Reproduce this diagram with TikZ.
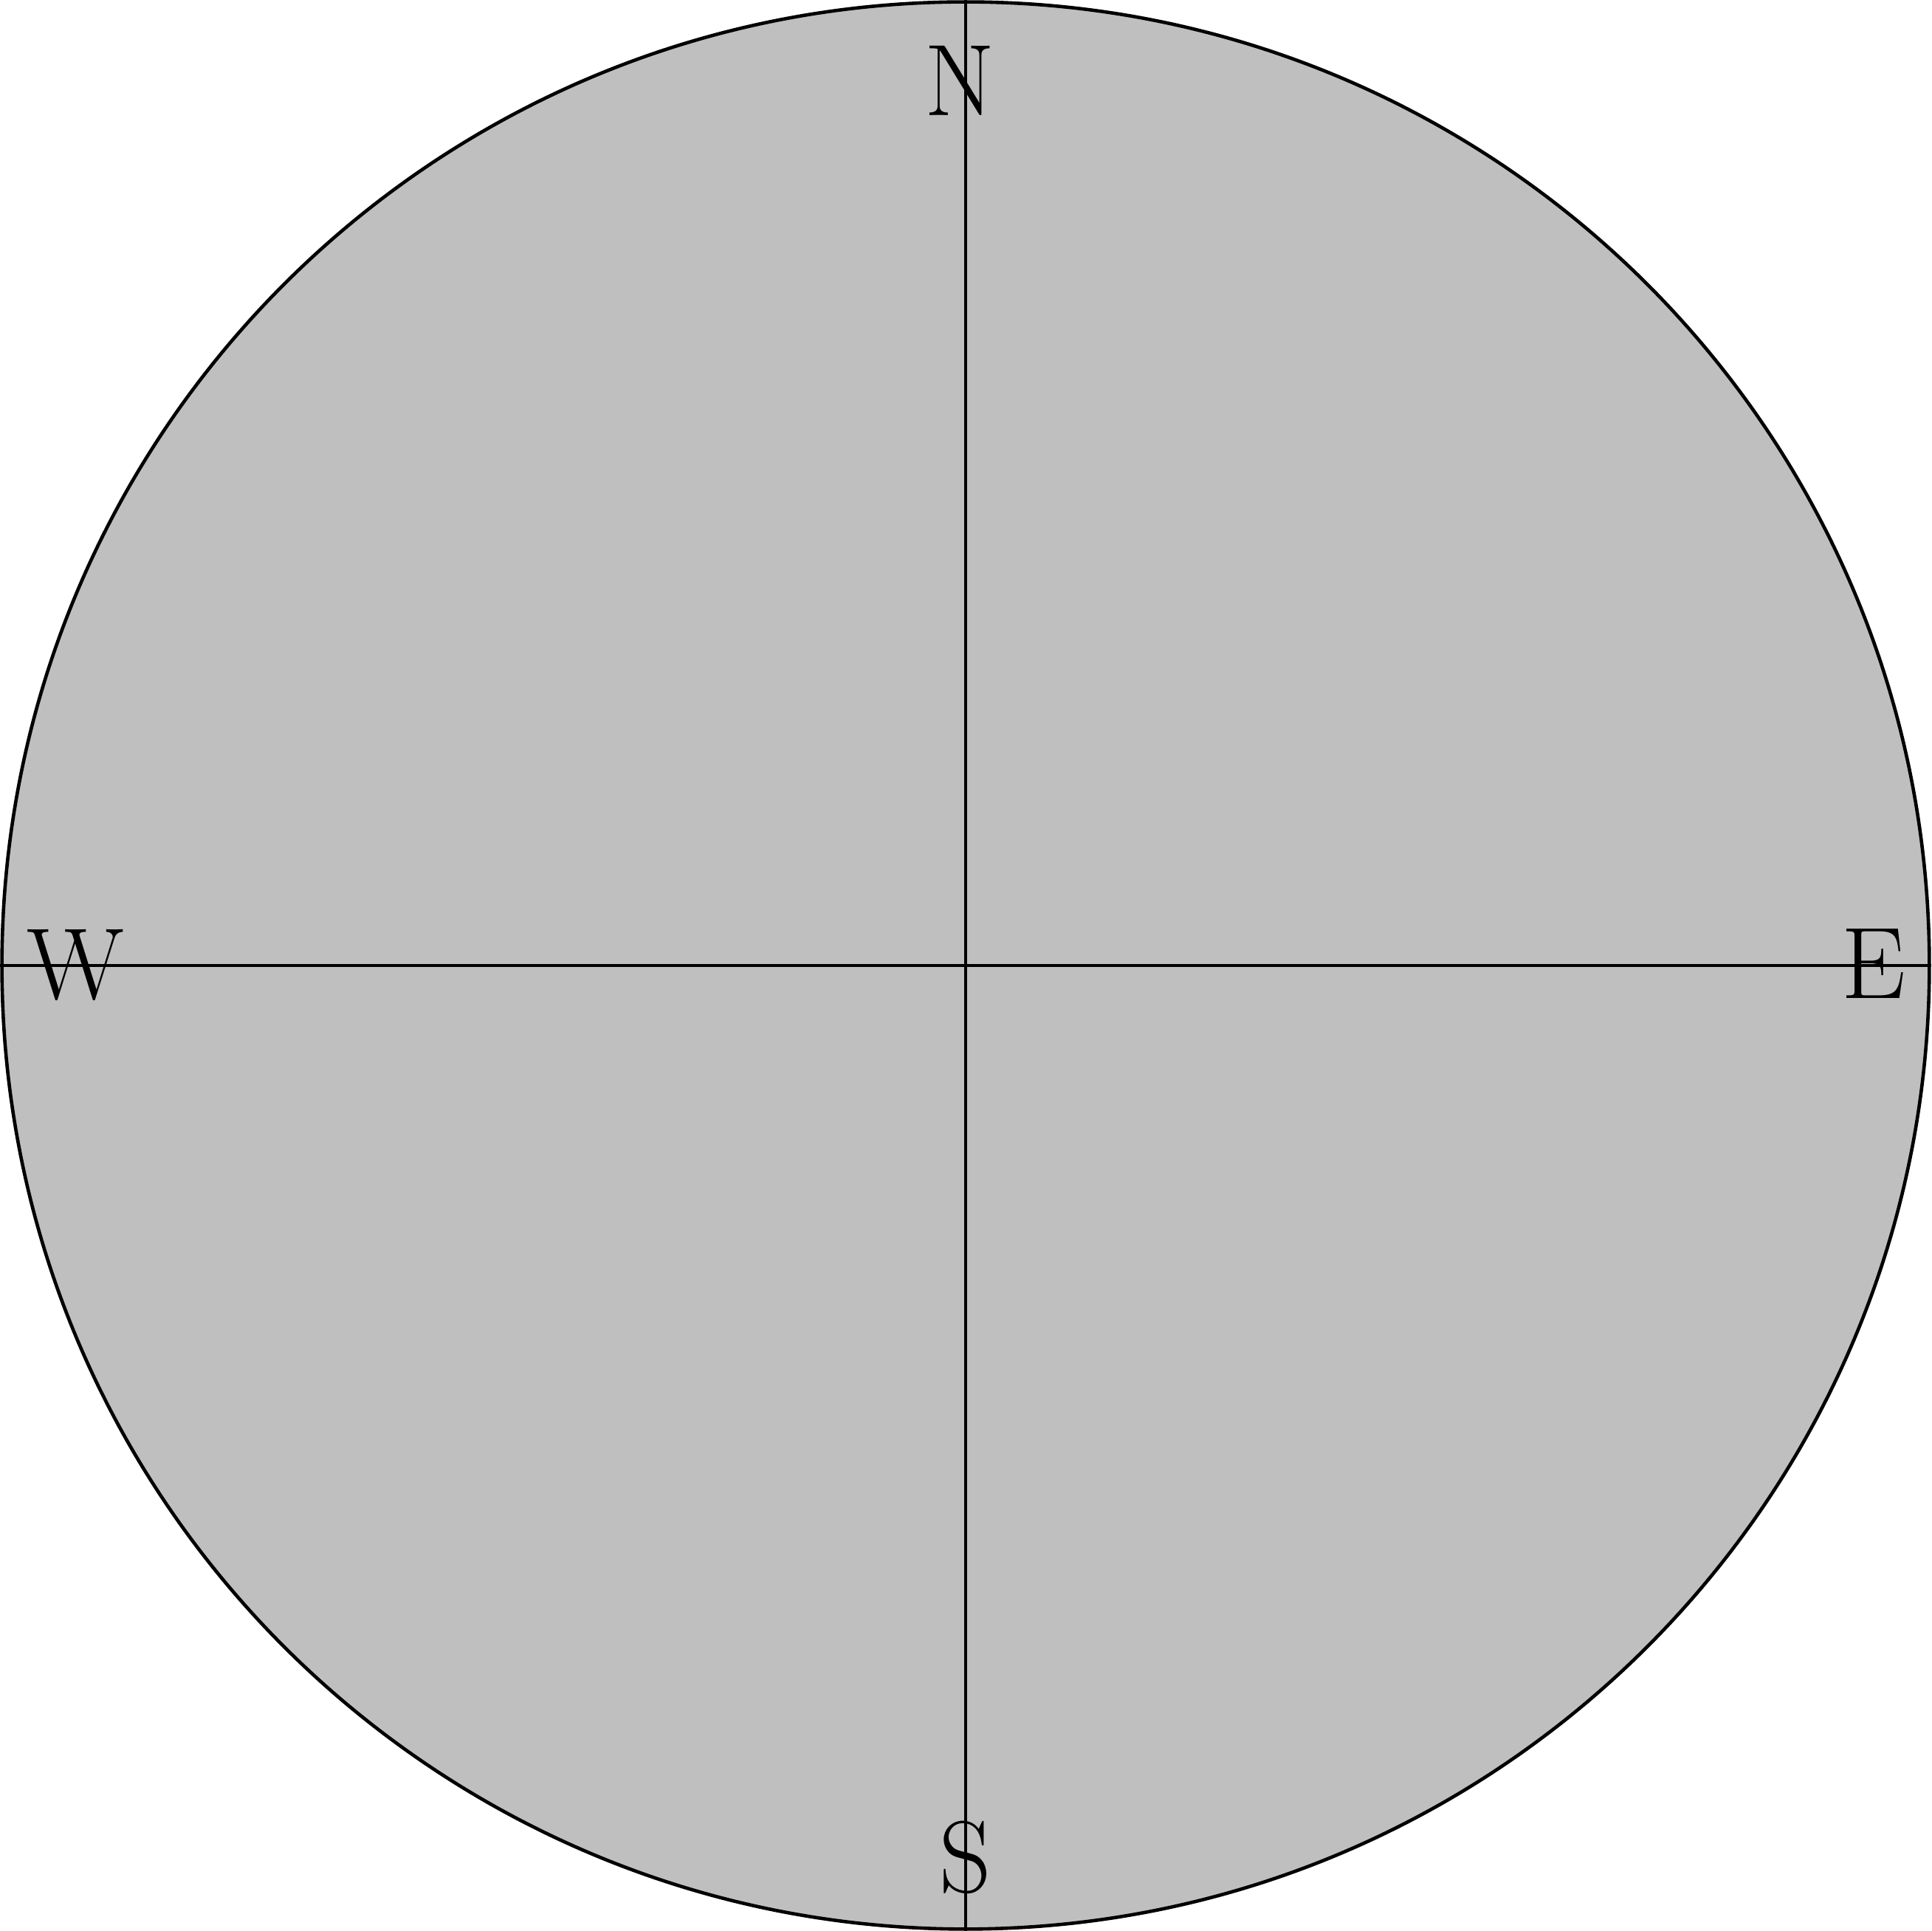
\documentclass[tikz,border=0pt]{standalone}
\begin{document}
\begin{tikzpicture}[
  dial/.style={draw=black, line width=0.5pt, fill=black!25},
  axis/.style={draw=black, line width=0.45pt},
  dirlabel/.style={font=\fontsize{15}{18}\selectfont, inner sep=0pt, anchor=center}
]
\useasboundingbox (-5.0,-5.0) rectangle (5.0,5.0);
\path[dial] (0,0) circle (4.99);
\coordinate (top) at (0,5.0);
\coordinate (bottom) at (0,-5.0);
\coordinate (left) at (-5.0,0);
\coordinate (right) at (5.0,0);
\draw[axis] (top) -- (bottom);
\draw[axis] (left) -- (right);
\node[dirlabel] (N) at (-0.03,4.58) {N};
\node[dirlabel] (S) at (0,-4.62) {S};
\node[dirlabel] (W) at (-4.61,0) {W};
\node[dirlabel] (E) at (4.70,0.01) {E};
\end{tikzpicture}
\end{document}
